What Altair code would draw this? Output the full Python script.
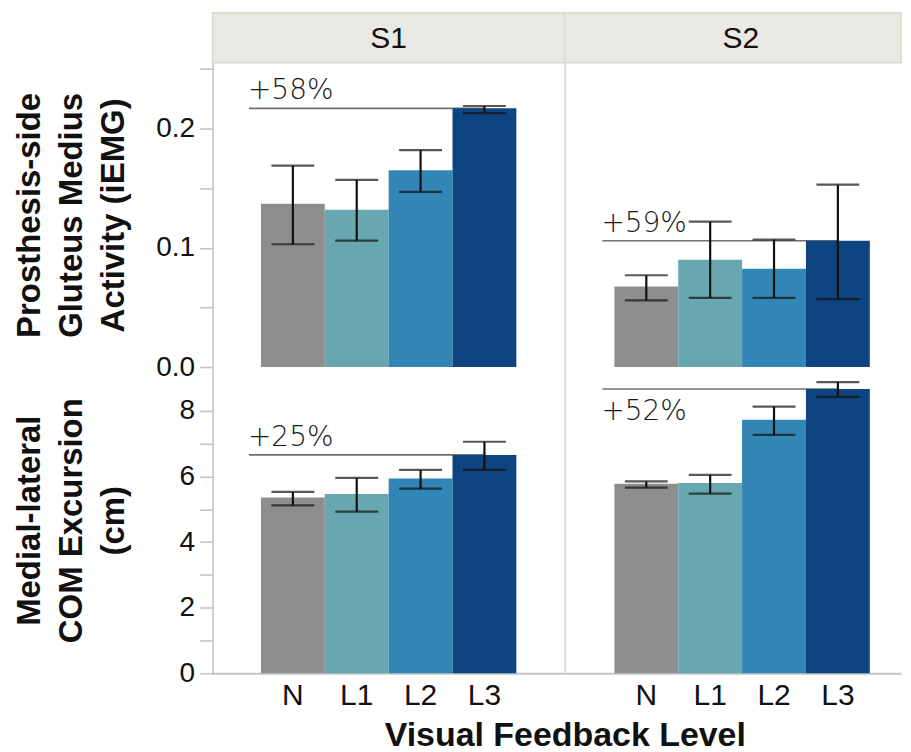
import altair as alt
import pandas as pd

levels = ["N", "L1", "L2", "L3"]
subjects = ["S1", "S2"]
colors = ["#8e8e8e", "#68a7b0", "#3186b5", "#0e4580"]

# Prosthesis-side gluteus medius activity (iEMG)
emg_s1 = [0.137, 0.132, 0.165, 0.217]
emg_s1_lo = [0.103, 0.106, 0.147, 0.213]
emg_s1_hi = [0.169, 0.157, 0.182, 0.219]
emg_s2 = [0.0675, 0.090, 0.0825, 0.106]
emg_s2_lo = [0.056, 0.058, 0.058, 0.057]
emg_s2_hi = [0.077, 0.122, 0.107, 0.153]

# Medial-lateral COM excursion (cm)
com_s1 = [5.36, 5.47, 5.94, 6.66]
com_s1_lo = [5.12, 4.93, 5.63, 6.20]
com_s1_hi = [5.53, 5.96, 6.20, 7.06]
com_s2 = [5.78, 5.80, 7.73, 8.67]
com_s2_lo = [5.66, 5.48, 7.27, 8.43]
com_s2_hi = [5.85, 6.05, 8.13, 8.88]

emg_pct = ["+58%", "+59%"]
com_pct = ["+25%", "+52%"]

emg_ticks = [0, 0.05, 0.1, 0.15, 0.2, 0.25]
com_ticks = [0, 1, 2, 3, 4, 5, 6, 7, 8]

emg_title = ["Prosthesis-side", "Gluteus Medius", "Activity (iEMG)"]
com_title = ["Medial-lateral", "COM Excursion", "(cm)"]
x_title = "Visual Feedback Level"

FONT = "Liberation Sans"
LIGHT = "DejaVu Sans"
AXC = "#c4c4c4"
SEP = "#dcdcdc"

LW, RW = 353, 337


def panel(vals, lo, hi, pct, below, ymax, width, height, pad_outer, align,
          left, bottom, ytitle=None, yticks=None, ylabexpr=None, yfmt=None):
    df = pd.DataFrame({"level": levels, "value": vals, "lo": lo, "hi": hi,
                       "start": ["N"] * 4, "end": ["L3"] * 4,
                       "ref": [vals[3]] * 4, "label": [pct, "", "", ""]})
    xscale = alt.Scale(domain=levels, paddingInner=0, paddingOuter=pad_outer, align=align)
    yscale = alt.Scale(domain=[0, ymax], nice=False, zero=True)

    if bottom:
        if left:
            xaxis = alt.Axis(title=x_title, labelAngle=0, ticks=False, labelPadding=7,
                             labelFontSize=30,
                             titleX=LW, titleAlign="center", titlePadding=8, titleFontSize=34,
                             domainColor=AXC, domainWidth=2)
        else:
            xaxis = alt.Axis(title=None, labelAngle=0, ticks=False, labelPadding=7,
                             labelFontSize=30, domainColor=AXC, domainWidth=2)
    else:
        xaxis = None

    if left:
        kw = dict(title=ytitle, values=yticks, labelExpr=ylabexpr, minExtent=62, maxExtent=62,
                  titlePadding=20, labelPadding=5, grid=False)
        if yfmt:
            kw["format"] = yfmt
        yaxis = alt.Axis(**kw)
    else:
        yaxis = alt.Axis(title=None, labels=False, ticks=False, grid=False,
                         domainColor=SEP, domainWidth=2)

    def X(field, **k):
        return alt.X(field, scale=xscale, axis=xaxis, sort=levels, **k)

    def Y(field):
        return alt.Y(field, scale=yscale, axis=yaxis)

    base = alt.Chart(df)
    rule = base.transform_filter(alt.datum.level == "N").mark_rule(
        color="#707070", strokeWidth=1.6, xOffset=-12
    ).encode(
        x=X("start:N", bandPosition=0),
        x2="end:N",
        y=Y("ref:Q"),
    )
    bars = base.mark_bar().encode(
        x=X("level:N"),
        y=Y("value:Q"),
        color=alt.Color("level:N", scale=alt.Scale(domain=levels, range=colors), legend=None),
    )
    err = base.mark_rule(color="#111111", strokeWidth=2.2).encode(
        x=X("level:N"),
        y=Y("lo:Q"),
        y2="hi:Q",
    )
    cap_lo = base.mark_tick(color="#111111", size=43, thickness=2.2).encode(
        x=X("level:N"),
        y=Y("lo:Q"),
    )
    cap_hi = base.mark_tick(color="#111111", size=43, thickness=2.2).encode(
        x=X("level:N"),
        y=Y("hi:Q"),
    )
    txt = base.transform_filter(alt.datum.level == "N").mark_text(
        align="left", baseline="top" if below else "bottom",
        dx=-13, dy=9 if below else -3,
        font=LIGHT, fontWeight=200, fontSize=28, color="#1a1a1a",
    ).encode(
        x=X("start:N", bandPosition=0),
        y=Y("ref:Q"),
        text="label:N",
    )
    return alt.layer(rule, bars, err, cap_lo, cap_hi, txt).properties(width=width, height=height)


def header(text, width, cx):
    d = pd.DataFrame({"t": [text]})
    bg = alt.Chart(d).mark_rect(fill="#e9e8e2", stroke="#d9d8d0", strokeWidth=1.5).encode(
        x=alt.value(0), x2=alt.value(width), y=alt.value(0), y2=alt.value(50)
    )
    tx = alt.Chart(d).mark_text(
        font=FONT, fontSize=30, color="#111111", baseline="middle", align="center"
    ).encode(
        text="t:N", x=alt.value(cx), y=alt.value(26)
    )
    return alt.layer(bg, tx).properties(width=width, height=50)


H1, H2 = 305, 307
emg_max = 0.2553
com_max = 9.338

emg_lab = "round(datum.value*100) % 10 == 0 ? datum.label : ''"
com_lab = "datum.value % 2 == 0 ? datum.label : ''"

tl = panel(emg_s1, emg_s1_lo, emg_s1_hi, emg_pct[0], False, emg_max, LW, H1, 0.758, 0.5,
           True, False, emg_title, emg_ticks, emg_lab, ".1f")
tr = panel(emg_s2, emg_s2_lo, emg_s2_hi, emg_pct[1], False, emg_max, RW, H1, 0.633, 0.614,
           False, False)
bl = panel(com_s1, com_s1_lo, com_s1_hi, com_pct[0], False, com_max, LW, H2, 0.758, 0.5,
           True, True, com_title, com_ticks, com_lab, "d")
br = panel(com_s2, com_s2_lo, com_s2_hi, com_pct[1], True, com_max, RW, H2, 0.633, 0.614,
           False, True)

chart = alt.concat(
    header(subjects[0], LW, LW / 2), header(subjects[1], RW, LW / 2),
    tl, tr, bl, br,
    columns=2, spacing=0, bounds="flush",
).properties(
    padding={"left": 5, "top": 2, "right": 0, "bottom": 0},
).configure_view(
    stroke="transparent"
).configure_axis(
    domainColor=AXC, domainWidth=1.6, tickColor=AXC, tickWidth=1.6, tickSize=13,
    labelFont=FONT, labelFontSize=28, labelColor="#111111",
    titleFont=FONT, titleFontSize=33, titleFontWeight="bold", titleColor="#111111",
    titleLineHeight=42,
)

chart.save("out.html", embed_options={"renderer": "svg", "actions": False})
